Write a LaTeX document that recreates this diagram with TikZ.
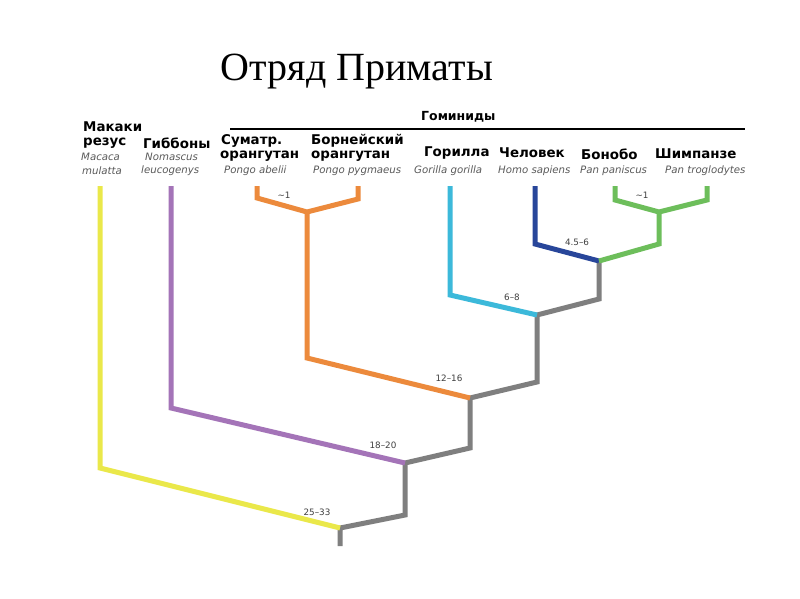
\documentclass[tikz,border=0pt]{standalone}
\usepackage{fontspec}
\setmainfont{Liberation Serif}
\newfontfamily\lblfont{DejaVu Sans}
\definecolor{cyel}{RGB}{234,232,74}
\definecolor{cpur}{RGB}{164,116,184}
\definecolor{cora}{RGB}{236,138,60}
\definecolor{ccya}{RGB}{60,185,218}
\definecolor{cblu}{RGB}{40,70,154}
\definecolor{cgrn}{RGB}{109,190,91}
\definecolor{cgry}{RGB}{127,127,127}
\definecolor{ctxt}{RGB}{90,90,90}
\begin{document}
\begin{tikzpicture}[x=1pt,y=-1pt,
  branch/.style={line width=5pt,line join=miter,line cap=butt},
  sp/.style={font=\lblfont\bfseries\fontsize{13.4}{15}\selectfont,inner sep=0pt,anchor=west},
  lat/.style={font=\lblfont\itshape\fontsize{10.2}{11}\selectfont,text=ctxt,inner sep=0pt,anchor=west},
  age/.style={font=\lblfont\fontsize{8.8}{10}\selectfont,text=black!75,inner sep=0pt}]
\useasboundingbox (0,0) rectangle (800,599);
\fill[white] (0,0) rectangle (800,599);
% title
\node[font=\fontsize{40}{44}\selectfont,inner sep=0pt] (title) at (357,72) {Отряд Приматы};
% hominid header
\node[font=\lblfont\bfseries\fontsize{12.5}{14}\selectfont,inner sep=0pt,anchor=west] (hom) at (421,117) {Гоминиды};
\coordinate (hl) at (230,129);
\coordinate (hr) at (745,129);
\draw[line width=2.4pt] (hl) -- (hr);
% species names
\node[sp] (mak1) at (83,127) {Макаки};
\node[sp] (mak2) at (83,143) {резус};
\node[lat] (mak3) at (81,157) {Macaca};
\node[lat] (mak4) at (82,171) {mulatta};
\node[sp] (gib1) at (143,143) {Гиббоны};
\node[lat] (gib2) at (145,157) {Nomascus};
\node[lat] (gib3) at (141,171) {leucogenys};
\node[sp] (sum1) at (221,141) {Суматр.};
\node[sp] (sum2) at (220,156) {орангутан};
\node[lat] (sum3) at (224,171) {Pongo abelii};
\node[sp] (bor1) at (311,141) {Борнейский};
\node[sp] (bor2) at (311,156) {орангутан};
\node[lat] (bor3) at (313,171) {Pongo pygmaeus};
\node[sp] (gor1) at (424,153) {Горилла};
\node[lat] (gor2) at (414,171) {Gorilla gorilla};
\node[sp] (hum1) at (499,153) {Человек};
\node[lat] (hum2) at (498,171) {Homo sapiens};
\node[sp] (bon1) at (581,154) {Бонобо};
\node[lat] (bon2) at (580,171) {Pan paniscus};
\node[sp] (chi1) at (655,154) {Шимпанзе};
\node[lat] (chi2) at (665,171) {Pan troglodytes};
% coordinates
\coordinate (Y0) at (100,186); \coordinate (Y1) at (100,468);
\coordinate (R0) at (340,528); \coordinate (Rb) at (340,546);
\coordinate (Ra) at (405,515);
\coordinate (P0) at (171,186); \coordinate (P1) at (171,408);
\coordinate (N1) at (405,463); \coordinate (N1a) at (470,448);
\coordinate (N2) at (470,398);
\coordinate (O0) at (307,212); \coordinate (O1) at (307,358);
\coordinate (OL0) at (257,186); \coordinate (OL1) at (257,198);
\coordinate (OR0) at (358,186); \coordinate (OR1) at (358,199);
\coordinate (N2a) at (537,382); \coordinate (N3) at (537,315);
\coordinate (C0) at (450,186); \coordinate (C1) at (450,295);
\coordinate (N3a) at (599,299); \coordinate (N4) at (599,261);
\coordinate (B0) at (535,186); \coordinate (B1) at (535,244);
\coordinate (G1) at (659,244); \coordinate (G0) at (659,212);
\coordinate (GL0) at (615,186); \coordinate (GL1) at (615,200);
\coordinate (GR0) at (707,186); \coordinate (GR1) at (707,200);
% branches
\draw[branch,cgry] (Rb) -- (R0) -- (Ra) -- (N1) -- (N1a) -- (N2) -- (N2a) -- (N3) -- (N3a) -- (N4);
\draw[branch,cyel] (Y0) -- (Y1) -- (R0);
\draw[branch,cpur] (P0) -- (P1) -- (N1);
\draw[branch,cora] (OL0) -- (OL1) -- (O0) -- (OR1) -- (OR0);
\draw[branch,cora] (O0) -- (O1) -- (N2);
\draw[branch,ccya] (C0) -- (C1) -- (N3);
\draw[branch,cblu] (B0) -- (B1) -- (N4);
\draw[branch,cgrn] (N4) -- (G1) -- (G0);
\draw[branch,cgrn] (GL0) -- (GL1) -- (G0) -- (GR1) -- (GR0);
% ages
\node[age] (a1) at (284,195) {\textasciitilde1};
\node[age] (a2) at (642,195) {\textasciitilde1};
\node[age] (a3) at (577,242) {4.5–6};
\node[age] (a4) at (512,297) {6–8};
\node[age] (a5) at (449,378) {12–16};
\node[age] (a6) at (383,445) {18–20};
\node[age] (a7) at (317,512) {25–33};
\end{tikzpicture}
\end{document}
